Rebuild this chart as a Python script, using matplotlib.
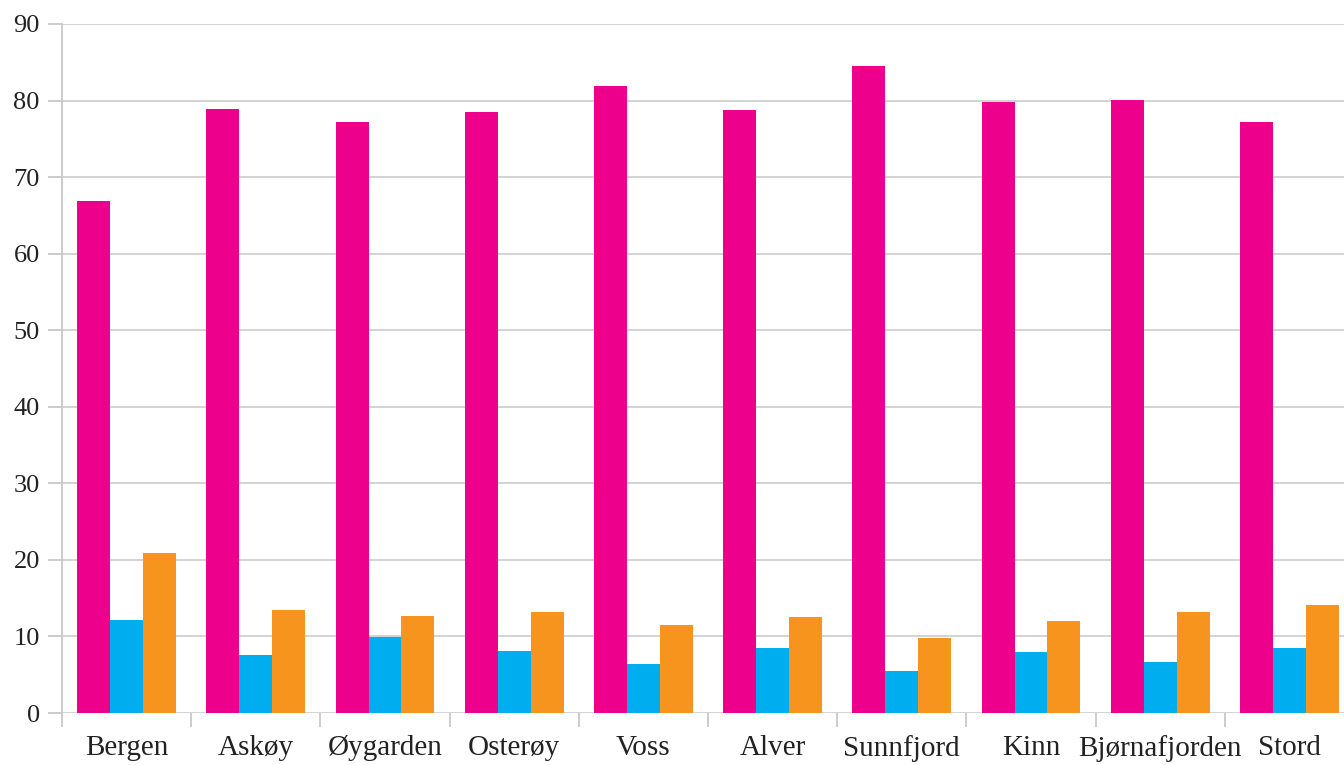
import numpy as np
import matplotlib.pyplot as plt

# Data
kommuner = ['Bergen', 'Askøy', 'Øygarden', 'Osterøy', 'Voss', 'Alver',
            'Sunnfjord', 'Kinn', 'Bjørnafjorden', 'Stord']
serie_1 = [66.9, 78.9, 77.2, 78.5, 81.9, 78.8, 84.5, 79.8, 80.1, 77.2]
serie_2 = [12.1, 7.6, 9.9, 8.1, 6.4, 8.5, 5.5, 8.0, 6.7, 8.5]
serie_3 = [20.9, 13.5, 12.7, 13.2, 11.5, 12.5, 9.8, 12.0, 13.2, 14.1]
farger = ['#EC008C', '#00AEEF', '#F7941E']
yticks = [0, 10, 20, 30, 40, 50, 60, 70, 80, 90]

plt.rcParams['font.family'] = ['Liberation Serif', 'DejaVu Serif']

fig = plt.figure(figsize=(13.44, 7.65), dpi=100)
ax = fig.add_axes([62 / 1344, 52 / 765, 1292 / 1344, 689 / 765])

x = np.arange(len(kommuner)) + 0.5
w = 0.255
for k, (vals, c) in enumerate(zip([serie_1, serie_2, serie_3], farger)):
    ax.bar(x + (k - 1) * w, vals, width=w, color=c, zorder=3)

ax.set_xlim(0, len(kommuner))
ax.set_ylim(0, 90)
ax.set_yticks(yticks)
ax.set_yticklabels([str(v) for v in yticks], fontsize=19, color='#222222')
ax.set_xticks(x)
ax.set_xticklabels(kommuner, fontsize=21, color='#222222')
ax.set_xticks(np.arange(0, len(kommuner)), minor=True)
ax.tick_params(axis='x', which='major', length=0, pad=16)
ax.tick_params(axis='x', which='minor', length=10, width=1.3, color='#c8c8c8')
ax.tick_params(axis='y', length=10, width=1.3, color='#c8c8c8', pad=6)

ax.grid(axis='y', color='#d0d0d0', linewidth=1.3, zorder=0)
for s in ['top', 'right', 'bottom']:
    ax.spines[s].set_visible(False)
ax.spines['left'].set_color('#c8c8c8')
ax.spines['left'].set_linewidth(1.3)

fig.savefig('out.png', dpi=100)
